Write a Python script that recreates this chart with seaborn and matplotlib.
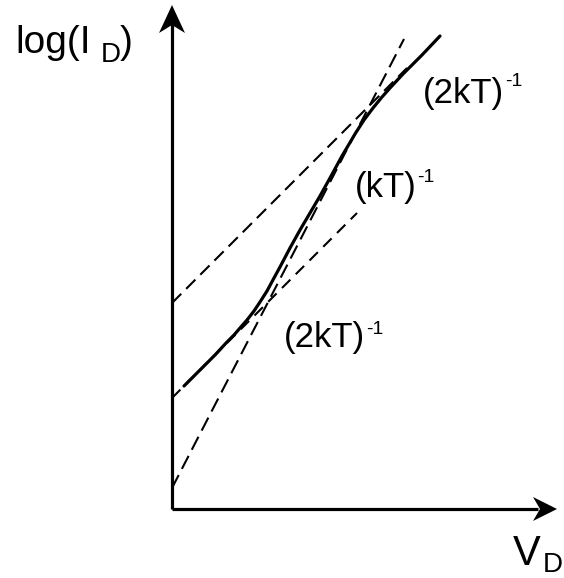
import matplotlib
matplotlib.use("Agg")
import matplotlib.pyplot as plt
import seaborn as sns
from matplotlib.patches import Polygon

# ---- data (diagram units: V_D along x, log(I_D) along y) ----
curve_v = [12, 20, 31, 43, 55, 62, 68, 75, 82, 88, 95, 102, 108, 118, 128,
           138, 148, 158, 170, 183, 192, 201, 210, 218, 231, 250, 268]
curve_logi = [123, 131, 142, 154, 167, 174, 181, 189, 198, 207, 218, 231,
              242, 261, 279, 296, 313, 331, 353, 375, 389, 401, 412, 421,
              435, 454, 473]

upper_v = [0, 235]
upper_logi = [206, 441]
steep_v = [0, 232]
steep_logi = [21, 470]
lower_v = [0, 185]
lower_logi = [111, 296]

slope_labels = ["(2kT)", "(kT)", "(2kT)"]
slope_sup = ["-1", "-1", "-1"]
label_v = [251, 183, 112]
label_logi = [406, 312, 162]
sup_logi = [423, 327, 175]

y_label_main = "log(I"
y_label_sub = "D"
x_label_main = "V"
x_label_sub = "D"

# ---- style ----
sns.set_style("white")
plt.rcParams["font.family"] = ["Liberation Sans", "DejaVu Sans"]
plt.rcParams["text.color"] = "black"
plt.rcParams["lines.scale_dashes"] = False

fig = plt.figure(figsize=(5.64, 5.78), dpi=100)
ax = fig.add_axes([0, 0, 1, 1])
ax.set_xlim(-172, 392)
ax.set_ylim(-69, 509)
ax.axis("off")

# dashed asymptotes
sns.lineplot(x=upper_v, y=upper_logi, ax=ax, color="black", linewidth=1.5,
             linestyle=(0, (9.4, 5.0)), sort=False, estimator=None)
sns.lineplot(x=steep_v, y=steep_logi, ax=ax, color="black", linewidth=1.5,
             linestyle=(0, (10.5, 5.0)), sort=False, estimator=None)
sns.lineplot(x=lower_v, y=lower_logi, ax=ax, color="black", linewidth=1.5,
             linestyle=(0, (8.5, 5.5)), sort=False, estimator=None)

# measured curve
sns.lineplot(x=curve_v, y=curve_logi, ax=ax, color="black", linewidth=2.3,
             sort=False, estimator=None)

# axes with arrows
ax.plot([0, 0], [0, 486], color="black", linewidth=2.3, solid_capstyle="butt")
ax.plot([0, 366], [0, 0], color="black", linewidth=2.3, solid_capstyle="butt")
ax.add_patch(Polygon([(0, 504), (-13, 476), (0, 484), (13, 476)],
                     closed=True, color="black", lw=0))
ax.add_patch(Polygon([(385, 0), (361, 12), (368, 0), (361, -12)],
                     closed=True, color="black", lw=0))

# axis labels
ax.text(-157, 456, y_label_main, fontsize=28, ha="left", va="baseline",
        color="black")
ax.text(-71, 447, y_label_sub, fontsize=20, ha="left", va="baseline",
        color="black")
ax.text(-52, 456, ")", fontsize=28, ha="left", va="baseline", color="black")
ax.text(341, -56, x_label_main, fontsize=30, ha="left", va="baseline",
        color="black")
ax.text(371, -63, x_label_sub, fontsize=20, ha="left", va="baseline",
        color="black")

# slope labels
for lab, sup, lx, ly, sy in zip(slope_labels, slope_sup, label_v,
                                label_logi, sup_logi):
    t = ax.text(lx, ly, lab, fontsize=25, ha="left", va="baseline",
                color="black")
    ax.annotate(sup, xy=(1.0, sy), xycoords=(t, "data"),
                xytext=(0.5, 0), textcoords="offset points",
                fontsize=14, ha="left", va="baseline", color="black")

fig.savefig("out.png", dpi=100)
